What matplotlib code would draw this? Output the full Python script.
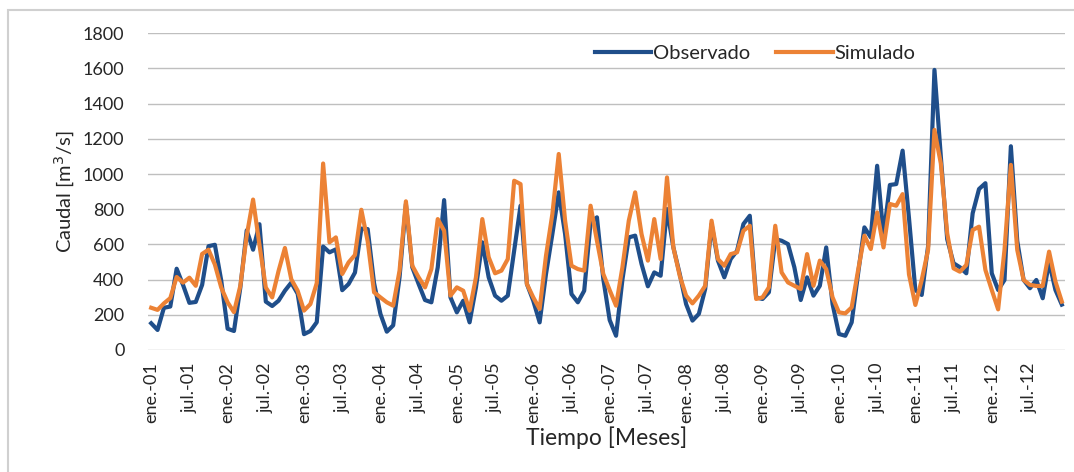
import numpy as np
import matplotlib
matplotlib.use("Agg")
import matplotlib.pyplot as plt
from matplotlib.patches import Rectangle

plt.rcParams['font.family'] = ['Lato', 'DejaVu Sans']

# caudal mensual, ene-2001 a dic-2012
observado = [152, 114, 240, 247, 462, 370, 268, 273, 370, 590, 598, 395,
             121, 108, 355, 680, 570, 715, 275, 250, 280, 337, 383, 320,
             90, 108, 158, 588, 555, 572, 340, 375, 440, 690, 687, 380,
             205, 104, 140, 413, 830, 470, 375, 284, 271, 470, 852, 299,
             214, 280, 157, 356, 612, 413, 309, 280, 309, 564, 820, 375,
             280, 157, 432, 659, 896, 659, 318, 271, 337, 725, 754, 403,
             170, 81, 400, 640, 650, 489, 362, 441, 422, 801, 583, 432,
             261, 167, 205, 347, 716, 508, 413, 517, 564, 716, 763, 299,
             290, 328, 630, 621, 602, 470, 284, 413, 309, 365, 583, 261,
             91, 81, 157, 432, 697, 640, 1047, 650, 938, 943, 1133, 750,
             341, 313, 590, 1592, 1100, 630, 493, 470, 436, 777, 915, 948,
             436, 341, 398, 1158, 620, 398, 351, 398, 294, 500, 341, 258]

simulado = [240, 228, 265, 295, 415, 383, 411, 365, 546, 570, 486, 355,
            271, 215, 365, 650, 855, 598, 355, 299, 449, 580, 402, 337,
            224, 261, 380, 1060, 612, 640, 432, 498, 540, 797, 617, 328,
            299, 271, 252, 450, 845, 479, 413, 356, 460, 744, 678, 309,
            356, 337, 224, 413, 744, 527, 436, 451, 517, 962, 943, 375,
            299, 233, 536, 773, 1114, 735, 479, 460, 451, 820, 621, 432,
            340, 252, 470, 735, 896, 659, 508, 744, 517, 981, 583, 422,
            309, 265, 309, 365, 735, 517, 479, 545, 555, 678, 706, 290,
            299, 356, 706, 441, 384, 365, 347, 545, 365, 508, 460, 299,
            214, 208, 242, 451, 650, 574, 782, 583, 830, 820, 886, 430,
            256, 398, 569, 1251, 1060, 663, 464, 445, 483, 682, 701, 455,
            341, 231, 569, 1052, 569, 398, 370, 364, 364, 559, 389, 275]

anios = [f"{a:02d}" for a in range(1, 13)]
etiquetas = []
for a in anios:
    etiquetas += [f"ene.-{a}", f"jul.-{a}"]

x = np.arange(len(observado))
texto = '#262626'

fig = plt.figure(figsize=(10.74, 4.72), dpi=100)
fig.patches.append(Rectangle((8 / 1074, -0.01), 1.02, 1 - 10 / 472 + 0.01,
                             transform=fig.transFigure, fill=False,
                             edgecolor='#d0d0d0', linewidth=1.5))

ax = fig.add_axes([148 / 1074, 1 - 350 / 472, 917 / 1074, 316.7 / 472])

ax.plot(x, observado, color='#1f4e8a', linewidth=3.0, label='Observado',
        solid_joinstyle='round', zorder=3)
ax.plot(x, simulado, color='#ec8235', linewidth=3.0, label='Simulado',
        solid_joinstyle='round', zorder=4)

ax.set_xlim(-0.5, len(x) - 0.5)
ax.set_ylim(0, 1800)
ax.set_yticks(np.arange(0, 1801, 200))
ax.set_xticks(x[::6])
ax.set_xticklabels(etiquetas, rotation=90)
ax.tick_params(axis='both', length=0, labelsize=13, colors=texto)
ax.tick_params(axis='y', pad=17)
ax.tick_params(axis='x', pad=9)
ax.grid(axis='y', color='#bfbfbf', linewidth=1.0)
ax.set_axisbelow(True)
for s in ax.spines.values():
    s.set_visible(False)

ax.set_ylabel('Caudal [m$^3$/s]', fontsize=14.5, color=texto, labelpad=4)
ax.set_xlabel('Tiempo [Meses]', fontsize=16.5, color=texto, labelpad=2)

ax.legend(loc='center', bbox_to_anchor=(0.662, 0.935), ncol=2, frameon=False,
          fontsize=14.5, handlelength=2.8, handletextpad=0.1, columnspacing=1.3,
          labelcolor=texto)

fig.savefig('out.png', dpi=100)
